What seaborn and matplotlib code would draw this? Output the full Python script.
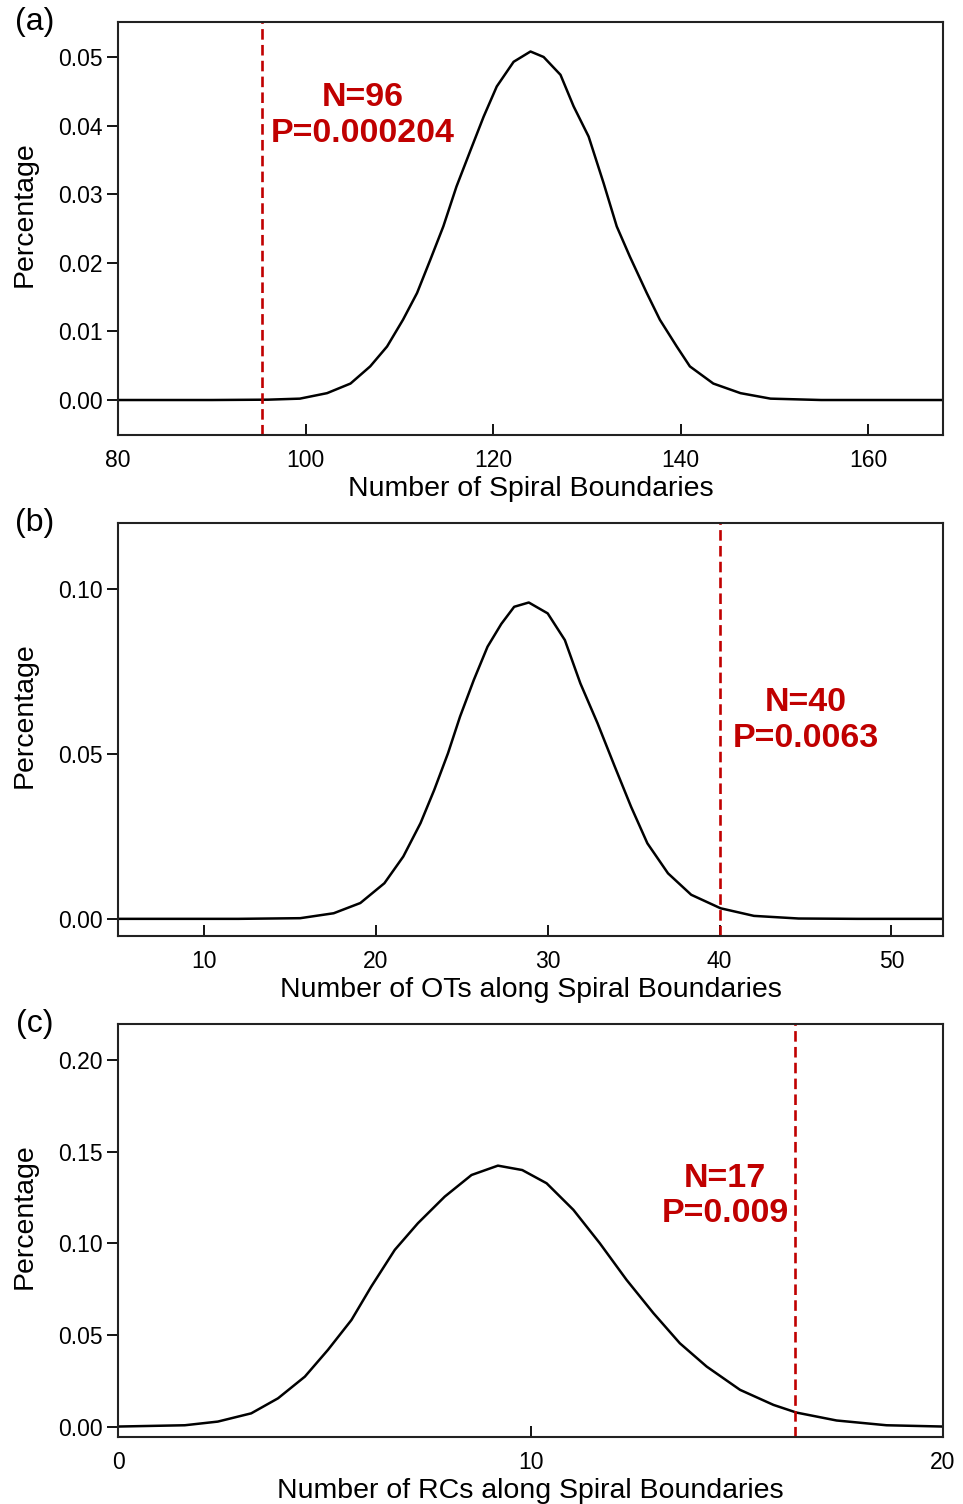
import numpy as np
import pandas as pd
import matplotlib
matplotlib.use("Agg")
import matplotlib.pyplot as plt
import seaborn as sns

sns.set_theme(style="ticks")
plt.rcParams["font.family"] = ["Liberation Sans", "DejaVu Sans"]
plt.rcParams["text.color"] = "black"
plt.rcParams["axes.labelcolor"] = "black"
plt.rcParams["xtick.color"] = "black"
plt.rcParams["ytick.color"] = "black"

# (a) spiral boundaries
a_x = [80, 90, 96, 99.4, 102.3, 104.8, 106.9, 108.7, 110.4, 111.9, 113.3, 114.7, 116.1,
       117.6, 119.0, 120.4, 122.2, 124.0, 125.4, 127.2, 128.6, 130.2, 131.8, 133.2,
       134.6, 136.4, 137.8, 139.6, 141.0, 143.5, 146.4, 149.6, 155, 168]
a_y = [0, 0, 0.00005, 0.0002, 0.0010, 0.0024, 0.0049, 0.0078, 0.0117, 0.0156, 0.0204,
       0.0253, 0.0311, 0.0364, 0.0413, 0.0457, 0.0493, 0.0508, 0.0500, 0.0474, 0.0428,
       0.0384, 0.0316, 0.0253, 0.0209, 0.0156, 0.0117, 0.0078, 0.0049, 0.0024, 0.0010,
       0.0002, 0, 0]

# (b) OTs along spiral boundaries
b_x = [5, 12, 15.6, 17.55, 19.1, 20.5, 21.6, 22.6, 23.4, 24.2, 24.9, 25.7, 26.5, 27.3,
       28.05, 28.9, 30.0, 31.0, 31.9, 32.9, 33.9, 34.85, 35.8, 37.0, 38.35, 40.06, 42.0,
       44.6, 48, 53]
b_y = [0, 0, 0.0002, 0.0017, 0.0048, 0.0108, 0.0189, 0.0290, 0.0391, 0.0502, 0.0613,
       0.0724, 0.0825, 0.0894, 0.0946, 0.0959, 0.0926, 0.0845, 0.0714, 0.0593, 0.0462,
       0.0340, 0.0229, 0.0138, 0.0073, 0.0032, 0.0009, 0.0001, 0, 0]

# (c) RCs along spiral boundaries
c_x = [0, 1.62, 2.42, 3.23, 3.88, 4.53, 5.09, 5.66, 6.14, 6.71, 7.27, 7.92, 8.57, 9.21,
       9.8, 10.39, 11.04, 11.68, 12.33, 12.98, 13.62, 14.27, 15.08, 15.89, 16.45, 17.42,
       18.63, 20.0]
c_y = [0.0002, 0.0009, 0.0029, 0.0074, 0.0156, 0.0274, 0.0420, 0.0583, 0.0765, 0.0965,
       0.1110, 0.1255, 0.1373, 0.1424, 0.1400, 0.1328, 0.1183, 0.1001, 0.0801, 0.0620,
       0.0456, 0.0329, 0.0202, 0.0120, 0.0078, 0.0035, 0.0009, 0.0002]

panels = [
    dict(x=a_x, y=a_y, tag="(a)", xlabel="Number of Spiral Boundaries",
         xlim=(80, 168), ylim=(-0.0051, 0.0551), xticks=[80, 100, 120, 140, 160],
         yticks=[0, 0.01, 0.02, 0.03, 0.04, 0.05], obs=95.4,
         txt="N=96\nP=0.000204", tx=106.1, ty=0.0415),
    dict(x=b_x, y=b_y, tag="(b)", xlabel="Number of OTs along Spiral Boundaries",
         xlim=(5, 53), ylim=(-0.0052, 0.12), xticks=[10, 20, 30, 40, 50],
         yticks=[0, 0.05, 0.10], obs=40,
         txt="N=40\nP=0.0063", tx=45.0, ty=0.0602),
    dict(x=c_x, y=c_y, tag="(c)", xlabel="Number of RCs along Spiral Boundaries",
         xlim=(0, 20), ylim=(-0.0055, 0.2196), xticks=[0, 10, 20],
         yticks=[0, 0.05, 0.10, 0.15, 0.20], obs=16.4,
         txt="N=17\nP=0.009", tx=14.72, ty=0.1259),
]

red = "#C00000"
fig = plt.figure(figsize=(9.63, 15.04), dpi=100)
tops = [22, 523, 1024]
for p, top in zip(panels, tops):
    ax = fig.add_axes([118 / 963, 1 - (top + 413) / 1504, 825 / 963, 413 / 1504])
    df = pd.DataFrame({"x": p["x"], "y": p["y"]})
    sns.lineplot(data=df, x="x", y="y", color="black", lw=1.8, ax=ax)
    ax.axvline(p["obs"], color=red, ls=(0, (4, 2)), lw=1.9)
    ax.text(p["tx"], p["ty"], p["txt"], color=red, fontsize=24.5, fontweight="bold",
            ha="center", va="center", linespacing=1.2)
    ax.set_xlim(p["xlim"])
    ax.set_ylim(p["ylim"])
    ax.set_xticks(p["xticks"])
    ax.set_yticks(p["yticks"])
    ax.yaxis.set_major_formatter(matplotlib.ticker.FormatStrFormatter("%.2f"))
    ax.tick_params(axis="x", direction="in", length=8, width=1.3, labelsize=16.5, pad=10)
    ax.tick_params(axis="y", direction="out", length=8, width=1.3, labelsize=16.5, pad=3)
    ax.set_xlabel(p["xlabel"], fontsize=20.5, labelpad=3)
    ax.set_ylabel("Percentage", fontsize=20.5)
    ax.yaxis.set_label_coords(-0.097, 0.535)
    for s in ax.spines.values():
        s.set_linewidth(1.5)
        s.set_color("#222222")
    fig.text(35 / 963, 1 - (top) / 1504, p["tag"], fontsize=23, ha="center", va="center")

fig.savefig("out.png", dpi=100, facecolor="white")
